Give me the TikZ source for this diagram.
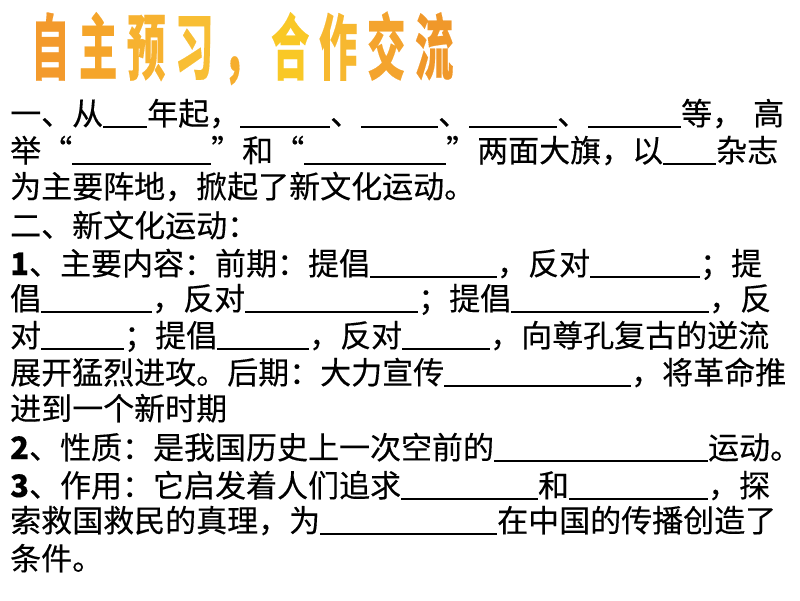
\documentclass[tikz,border=0pt]{standalone}
\usepackage{fontspec}
\setmainfont{Noto Sans CJK SC}[FakeBold=0.3]
\usepackage{graphicx}

\newcommand{\blank}[1]{\rule[-2.5pt]{#1pt}{1.4pt}}
\newcommand{\oq}{\makebox[1em][r]{“}}
\newcommand{\cq}{\makebox[1em][l]{”}}
\newcommand{\tc}[2]{\makebox[48pt]{\scalebox{0.8}[1.5]{\textcolor[HTML]{#1}{#2}}}}

\begin{document}
\begin{tikzpicture}[x=1pt,y=-1pt]
		\tikzstyle {row} = [anchor=base west, inner sep=0pt, font=\fontsize{31}{37}\selectfont]
		\tikzstyle {title} = [anchor=base west, inner sep=0pt, font=\fontsize{48}{50}\selectfont\bfseries]

		\fill[white] (0,0) rectangle (800,600);
		\useasboundingbox (0,0) rectangle (800,600);

		% heading
		\node[title] (head) at (26, 74) {\tc{F39A2C}{自}\tc{F5A52A}{主}\tc{F7B230}{预}\tc{F8BE34}{习}\tc{F6AE2E}{，}\tc{F9C826}{合}\tc{F7B830}{作}\tc{F4A42E}{交}\tc{F0982A}{流}};

		% part one
		\node[row] (l1) at (10, 125) {一、从\blank{44}年起，\blank{90}、\blank{77}、\blank{88}、\blank{93}等，\hspace{10pt}高};
		\node[row] (l2) at (10, 162) {举\oq\blank{139}\cq 和\oq\blank{142}\cq 两面大旗，以\blank{53}杂志};
		\node[row] (l3) at (10, 198) {为主要阵地，掀起了新文化运动。};

		% part two
		\node[row] (l4) at (10, 237) {二、新文化运动：};
		\node[row] (l5) at (10, 275) {{\bfseries 1}、主要内容：前期：提倡\blank{127}，反对\blank{110}；提};
		\node[row] (l6) at (10, 310) {倡\blank{111}，反对\blank{173}；提倡\blank{198}，反};
		\node[row] (l7) at (10, 347) {对\blank{83}；提倡\blank{92}，反对\blank{88}，向尊孔复古的逆流};
		\node[row] (l8) at (10, 384) {展开猛烈进攻。后期：大力宣传\blank{187}，将革命推};
		\node[row] (l9) at (10, 420) {进到一个新时期};
		\node[row] (l10) at (10, 459) {{\bfseries 2}、性质：是我国历史上一次空前的\blank{214}运动。};
		\node[row] (l11) at (10, 497) {{\bfseries 3}、作用：它启发着人们追求\blank{137}和\blank{139}，探};
		\node[row] (l12) at (10, 532) {索救国救民的真理，为\blank{177}在中国的传播创造了};
		\node[row] (l13) at (10, 570) {条件。};
	\end{tikzpicture}
\end{document}
